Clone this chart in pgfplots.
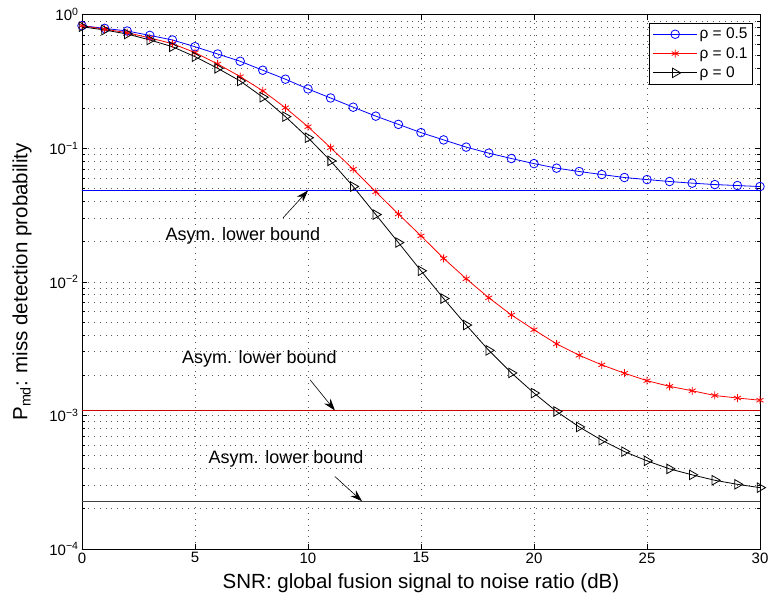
\documentclass[border=0pt]{standalone}
\usepackage{fontspec}
\setmainfont{Liberation Sans}
\usepackage{pgfplots}
\pgfplotsset{compat=1.18}
\usetikzlibrary{arrows.meta}
\begin{document}
\begin{tikzpicture}
\path[use as bounding box] (-82bp,-54bp) rectangle (689bp,549bp);
\begin{axis}[
  at={(0,0)}, anchor=south west,
  scale only axis, width=678bp, height=534.3bp,
  ymode=log, xmin=0, xmax=30, ymin=1e-4, ymax=1,
  xtick={0,5,...,30},
  ytick={1e-4,1e-3,1e-2,1e-1,1},
  yticklabels={10\textsuperscript{−4},10\textsuperscript{−3},10\textsuperscript{−2},10\textsuperscript{−1},10\textsuperscript{0}},
  /pgf/number format/assume math mode=true,
  tick label style={font=\fontsize{15bp}{17bp}\selectfont},
  tick align=inside,
  major tick length=5bp, minor tick length=3bp,
  every tick/.style={black, line width=0.6bp},
  axis line style={line width=0.8bp},
  xmajorgrids, ymajorgrids, yminorgrids,
  major grid style={dash pattern=on 0.9bp off 5bp, black!65, line width=0.6bp},
  minor grid style={dash pattern=on 0.9bp off 5bp, black!65, line width=0.6bp},
  xlabel={SNR: global fusion signal to noise ratio (dB)},
  ylabel={P\textsubscript{md}: miss detection probability},
  xlabel style={font=\fontsize{20.5bp}{24bp}\selectfont, at={(axis description cs:0.5,-0.0636)}, anchor=center},
  ylabel style={font=\fontsize{20.5bp}{24bp}\selectfont, at={(axis description cs:-0.0885,0.5)}, anchor=center},
  legend style={at={(rel axis cs:1,1)}, anchor=north east, xshift=-7bp, yshift=-8bp,
    font=\fontsize{15.5bp}{18bp}\selectfont, draw=black, line width=0.8bp,
    inner sep=3bp, row sep=3bp},
  legend cell align=left,
  legend image code/.code={\draw[mark repeat=2,mark phase=2,#1] plot coordinates {(0bp,0bp)(22bp,0bp)(44bp,0bp)};},
]
\addplot[blue, line width=0.8bp, mark=o, mark size=4.3bp, mark options={solid}] coordinates {
(0,0.828)(1,0.79)(2,0.755)(3,0.70)(4,0.647)(5,0.576)(6,0.508)(7,0.448)(8,0.384)(9,0.329)
(10,0.278)(11,0.238)(12,0.203)(13,0.174)(14,0.151)(15,0.131)(16,0.1155)(17,0.102)(18,0.0919)(19,0.0838)
(20,0.0768)(21,0.0710)(22,0.067)(23,0.0636)(24,0.0604)(25,0.0583)(26,0.0564)(27,0.0548)(28,0.0535)(29,0.0526)(30,0.0517)};
\addlegendentry{ρ = 0.5}
\addplot[red, line width=0.8bp, mark=asterisk, mark size=4bp, mark options={solid}] coordinates {
(0,0.828)(1,0.778)(2,0.734)(3,0.67)(4,0.607)(5,0.520)(6,0.428)(7,0.344)(8,0.269)(9,0.201)
(10,0.145)(11,0.101)(12,0.0697)(13,0.0472)(14,0.0322)(15,0.0221)(16,0.0150)(17,0.01055)(18,0.0076)(19,0.00565)
(20,0.00438)(21,0.00343)(22,0.00282)(23,0.00239)(24,0.00207)(25,0.00182)(26,0.00165)(27,0.00153)(28,0.00141)(29,0.00135)(30,0.0013)};
\addlegendentry{ρ = 0.1}
\addplot[black, line width=0.8bp, mark=triangle, mark size=5.5bp, mark options={solid, rotate=-90}] coordinates {
(0,0.813)(1,0.768)(2,0.717)(3,0.647)(4,0.576)(5,0.485)(6,0.397)(7,0.319)(8,0.241)(9,0.1726)
(10,0.120)(11,0.0805)(12,0.0517)(13,0.0319)(14,0.0197)(15,0.0121)(16,0.0075)(17,0.00475)(18,0.00307)(19,0.00208)
(20,0.00147)(21,0.00107)(22,0.00082)(23,0.000652)(24,0.000536)(25,0.000457)(26,0.000398)(27,0.000359)(28,0.000327)(29,0.000305)(30,0.000288)};
\addlegendentry{ρ = 0}
\addplot[blue, line width=0.8bp, forget plot] coordinates {(0,0.0483)(30,0.0483)};
\addplot[red!80!black, line width=0.6bp, forget plot] coordinates {(0,0.00109)(30,0.00109)};
\addplot[black!75, line width=0.7bp, forget plot] coordinates {(0,0.000228)(30,0.000228)};
\draw[-{Stealth[length=12bp,width=8bp]}, line width=0.6bp] (axis cs:8.9,0.0302) -- (axis cs:10,0.0483);
\draw[-{Stealth[length=12bp,width=8bp]}, line width=0.6bp] (axis cs:10.09,0.00185) -- (axis cs:11.19,0.00109);
\draw[-{Stealth[length=12bp,width=8bp]}, line width=0.6bp] (axis cs:11.19,0.000349) -- (axis cs:12.39,0.000228);
\node[font=\fontsize{18bp}{21bp}\selectfont] at (axis cs:7.12,0.0221) {Asym. lower bound};
\node[font=\fontsize{18bp}{21bp}\selectfont] at (axis cs:7.85,0.00266) {Asym. lower bound};
\node[font=\fontsize{18bp}{21bp}\selectfont] at (axis cs:9.03,0.000475) {Asym. lower bound};
\end{axis}
\end{tikzpicture}
\end{document}
